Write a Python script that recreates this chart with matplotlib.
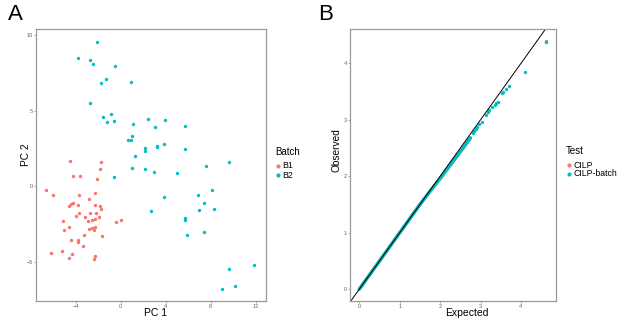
import matplotlib
matplotlib.use("Agg")
import matplotlib.pyplot as plt
from matplotlib.lines import Line2D
from matplotlib import font_manager

names = {f.name for f in font_manager.fontManager.ttflist}
NARROW = 'Liberation Sans Narrow' if 'Liberation Sans Narrow' in names else 'Liberation Sans'
plt.rcParams['font.family'] = [NARROW, 'DejaVu Sans']

RED = '#F8766D'
TEAL = '#00BFC4'

# ---------------- Panel A data (PCA) ----------------
b1_pc1 = [-4.53, -1.76, -1.88, -4.24, -3.65, -2.06, -6.59, -6.00, -2.24, -3.68,
          -2.85, -4.26, -4.38, -4.59, -3.82, -2.24, -1.88, -1.76, -2.71, -2.18,
          -3.71, -3.94, -3.21, -1.94, -2.26, -2.91, -2.53, -5.12, 0.00, -0.38,
          -4.62, -5.03, -2.79, -2.53, -2.29, -2.35, -1.62, -3.29, -3.76, -4.44,
          -3.76, -3.35, -5.24, -6.18, -4.35, -2.32, -4.62, -2.41]
b1_pc2 = [1.65, 1.61, 1.15, 0.66, 0.66, 0.51, -0.26, -0.59, -0.46, -0.57,
          -0.86, -1.10, -1.19, -1.32, -1.23, -1.21, -1.32, -1.50, -1.76, -1.74,
          -1.74, -2.00, -2.03, -2.03, -2.14, -2.27, -2.25, -2.31, -2.25, -2.38,
          -2.71, -2.89, -2.82, -2.75, -2.73, -2.89, -3.28, -3.26, -3.55, -3.55,
          -3.70, -3.96, -4.27, -4.43, -4.52, -4.60, -4.74, -4.85]

b2_pc1 = [-2.12, -3.82, -2.76, -2.47, -0.53, -1.29, -1.76, 0.94, -2.76, -0.88,
          -1.56, -0.59, -1.21, 2.41, 3.97, 1.06, 3.09, 5.74, 0.97, 0.88,
          0.62, 2.15, 2.15, 3.24, 3.24, 3.88, 5.74, 1.26, 1.00, 2.12,
          2.94, 4.97, -0.59, 7.59, 9.62, 8.15, 6.85, 3.85, 7.38, 8.32,
          6.91, 2.68, 5.71, 5.71, 7.38, 5.88, 9.62, 11.88, 9.00, 10.15]
b2_pc2 = [9.56, 8.50, 8.35, 8.08, 8.00, 7.14, 6.81, 6.94, 5.51, 4.76,
          4.60, 4.30, 4.23, 4.45, 4.41, 4.10, 3.92, 3.99, 3.30, 3.08,
          3.04, 2.56, 2.36, 2.64, 2.58, 2.82, 2.47, 2.03, 1.19, 1.17,
          0.97, 0.86, 0.59, 1.34, 1.59, -0.22, -0.57, -0.68, -1.12, -1.52,
          -1.59, -1.65, -2.07, -2.22, -3.06, -3.26, -5.51, -5.22, -6.81, -6.59]

a_xticks = [-4, 0, 4, 8, 12]
a_yticks = [-5, 0, 5, 10]

# ---------------- Panel B data (QQ) ----------------
# dense bulk of the QQ points (traced along the band)
bulk_expected = [0.00, 0.50, 1.00, 1.50, 1.80, 2.00, 2.20, 2.40, 2.60, 2.75]
bulk_observed = [0.00, 0.50, 1.00, 1.50, 1.78, 1.96, 2.15, 2.34, 2.53, 2.68]

# upper tail, CILP-batch
tail_expected = [2.81, 2.85, 2.89, 2.92, 2.97, 3.03, 3.13, 3.18, 3.22, 3.28,
                 3.35, 3.38, 3.43, 3.52, 3.55, 3.63, 3.71, 4.09, 4.63]
tail_observed = [2.76, 2.80, 2.84, 2.88, 2.93, 2.97, 3.08, 3.14, 3.17, 3.23,
                 3.27, 3.30, 3.32, 3.47, 3.50, 3.55, 3.60, 3.85, 4.38]

# CILP points visible behind CILP-batch
cilp_expected = [4.62]
cilp_observed = [4.40]

b_xticks = [0, 1, 2, 3, 4]
b_yticks = [0, 1, 2, 3, 4]

fig = plt.figure(figsize=(6.17, 3.18), dpi=100)

FRAME = '#9a9a9a'
TICKC = '#666666'


def style(ax):
    for s in ax.spines.values():
        s.set_color(FRAME)
        s.set_linewidth(0.9)
    ax.tick_params(axis='both', length=1.6, width=0.6, color=FRAME,
                   labelsize=4, labelcolor=TICKC, pad=0.8)
    ax.set_facecolor('white')


# Panel A
axA = fig.add_axes([0.0583, 0.0535, 0.3728, 0.8553])
axA.scatter(b1_pc1, b1_pc2, s=6, color=RED, linewidths=0)
axA.scatter(b2_pc1, b2_pc2, s=6, color=TEAL, linewidths=0)
axA.set_xlim(-7.52, 12.9)
axA.set_ylim(-7.6, 10.42)
axA.set_xticks(a_xticks)
axA.set_yticks(a_yticks)
style(axA)

# Panel B
axB = fig.add_axes([0.5673, 0.0535, 0.3333, 0.8553])
axB.plot(bulk_expected, bulk_observed, color=RED, lw=2.4, solid_capstyle='round')
axB.scatter(cilp_expected, cilp_observed, s=6, color=RED, linewidths=0)
axB.plot(bulk_expected, bulk_observed, color=TEAL, lw=2.4, solid_capstyle='round')
axB.scatter(tail_expected, tail_observed, s=6, color=TEAL, linewidths=0)
axB.axline((0, 0), slope=1, color='black', lw=0.7)
axB.set_xlim(-0.23, 4.86)
axB.set_ylim(-0.21, 4.61)
axB.set_xticks(b_xticks)
axB.set_yticks(b_yticks)
style(axB)

# axis titles (placed as in the reference)
fig.text(156 / 617, 1 - 313.5 / 318, 'PC 1', fontsize=7.5, ha='center', va='center')
fig.text(467 / 617, 1 - 313.5 / 318, 'Expected', fontsize=7.5, ha='center', va='center')
fig.text(25.5 / 617, 1 - 155 / 318, 'PC 2', fontsize=7.3, ha='center', va='center', rotation=90)
fig.text(336.5 / 617, 1 - 150 / 318, 'Observed', fontsize=7.3, ha='center', va='center', rotation=90)

# Panel letters
fig.text(8 / 617, 1 - 14 / 318, 'A', fontsize=16, va='center', ha='left', family='Liberation Sans')
fig.text(318 / 617, 1 - 14 / 318, 'B', fontsize=16, va='center', ha='left', family='Liberation Sans')

# Legends
def legend(x0, ytitle, title, labels, colors):
    fig.text(x0 / 617, 1 - ytitle / 318, title, fontsize=7, va='center', ha='left')
    for i, (lab, c) in enumerate(zip(labels, colors)):
        y = ytitle + 14 + 9 * i
        fig.add_artist(Line2D([(x0 + 2.5) / 617], [1 - y / 318], marker='o',
                              markersize=2, color=c, lw=0, transform=fig.transFigure))
        fig.text((x0 + 7) / 617, 1 - y / 318, lab, fontsize=6.3, va='center', ha='left')

legend(275, 152, 'Batch', ['B1', 'B2'], [RED, TEAL])
legend(566, 151, 'Test', ['CILP', 'CILP-batch'], [RED, TEAL])

fig.savefig('out.png', dpi=100)
